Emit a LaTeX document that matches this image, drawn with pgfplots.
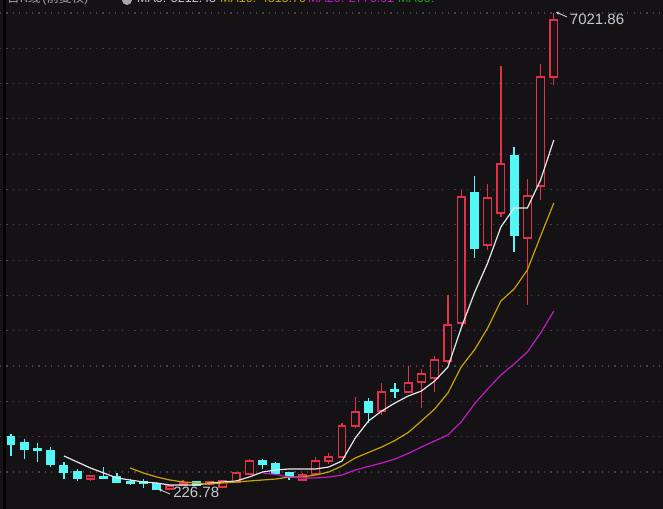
\documentclass[border=0pt]{standalone}
\usepackage{pgfplots}
\pgfplotsset{compat=1.18}
\usepackage{pgfplotstable}
\usetikzlibrary{arrows.meta}
\usepackage{fontspec}
\setmainfont{Liberation Sans}
\newfontfamily\cjk{Noto Sans CJK SC}
\definecolor{bg}{HTML}{141215}
\definecolor{kred}{HTML}{E0304A}
\definecolor{kcyan}{HTML}{54F6F6}
\definecolor{mafive}{HTML}{E8E8E8}
\definecolor{maten}{HTML}{C9A400}
\definecolor{matwenty}{HTML}{C21BC2}
\definecolor{masixty}{HTML}{19A519}
\definecolor{gridc}{HTML}{46444A}
\definecolor{lbl}{HTML}{C4CAD2}

% up (red, hollow) candles: index, open, high, low, close
\pgfplotstableread{
i O H L C
7 383 440 355 426
13 241 298 241 284
14 298 369 284 326
16 312 355 298 341
17 269 369 255 355
18 341 483 326 469
19 455 668 440 640
23 369 469 355 440
24 455 697 440 640
25 640 754 597 697
26 697 1181 683 1138
27 1138 1552 1110 1338
29 1352 1751 1295 1623
31 1623 1993 1609 1751
32 1765 1950 1395 1879
33 1822 2136 1623 2079
34 2064 3005 2036 2577
35 2606 4500 2534 4401
37 3717 4586 3646 4386
38 4173 6267 4116 4871
40 3816 4657 2862 4415
41 4557 6295 4358 6110
42 6110 7021.86 5996 6922
}\up

% down (cyan, filled) candles
\pgfplotstableread{
i O H L C
1 982 1024 711 882
2 896 953 668 811
3 811 896 626 797
4 782 839 554 597
5 569 626 383 483
6 483 526 355 398
8 412 554 383 398
9 412 469 326 341
10 341 383 298 326
11 341 383 255 326
12 312 341 226.78 241
15 341 355 284 298
20 640 668 526 597
21 597 626 455 469
22 469 483 369 412
28 1480 1537 1181 1338
30 1651 1751 1537 1637
36 4458 4700 3532 3674
39 4985 5113 3617 3859
}\down

% draws every candle of a table: #1 table, #2 colour, #3 body fill
\newcommand\candles[3]{%
  \pgfplotstablegetrowsof{#1}%
  \pgfmathtruncatemacro{\nrows}{\pgfplotsretval-1}%
  \pgfplotsforeachungrouped \r in {0,...,\nrows}{%
    \pgfplotstablegetelem{\r}{i}\of{#1}\let\ci\pgfplotsretval
    \pgfplotstablegetelem{\r}{O}\of{#1}\let\co\pgfplotsretval
    \pgfplotstablegetelem{\r}{H}\of{#1}\let\ch\pgfplotsretval
    \pgfplotstablegetelem{\r}{L}\of{#1}\let\cl\pgfplotsretval
    \pgfplotstablegetelem{\r}{C}\of{#1}\let\cc\pgfplotsretval
    \pgfmathsetmacro{\xa}{\ci-0.29}%
    \pgfmathsetmacro{\xb}{\ci+0.29}%
    \edef\cmd{%
      \noexpand\addplot[#2, line width=1.3pt, forget plot] coordinates {(\ci,\cl)(\ci,\ch)};%
      \noexpand\addplot[draw=#2, fill=#3, line width=1.3pt, line join=miter, forget plot]
        coordinates {(\xa,\co)(\xb,\co)(\xb,\cc)(\xa,\cc)} -- cycle;%
    }%
    \cmd
  }%
}

\begin{document}
\begin{tikzpicture}
\begin{axis}[
  scale only axis,
  width=663pt, height=509pt,
  xmin=0.169, xmax=50.245,
  ymin=-43.9, ymax=7206.8,
  axis background/.style={fill=bg},
  axis line style={draw=none},
  xtick=\empty,
  ytick={483,986,1489,1992,2495,2998,3501,4004,4507,5010,5513,6016,6519,7022},
  yticklabels={},
  ytick style={draw=none},
  ymajorgrids,
  major grid style={gridc, line width=1.2pt, dash pattern=on 1.2pt off 5.2pt},
  clip=false,
]
% left dark bar
\fill[black] (rel axis cs:0.0042,0) rectangle (rel axis cs:0.0092,1);

\candles{\up}{kred}{bg}
\candles{\down}{kcyan}{kcyan}

% MA5
\addplot[mafive, line width=1.2pt] coordinates {
(5,711)(6,626)(7,540)(8,469)(9,398)(10,369)(11,341)(12,326)(13,298)(14,298)
(15,298)(16,326)(17,341)(18,355)(19,412)(20,483)(21,512)(22,526)(23,526)(24,526)
(25,554)(26,640)(27,967)(28,1210)(29,1352)(30,1466)(31,1566)(32,1637)(33,1779)(34,1979)
(35,2534)(36,3033)(37,3460)(38,3973)(39,4244)(40,4244)(41,4643)(42,5213)};
% MA10
\addplot[maten, line width=1.2pt] coordinates {
(10,540)(11,469)(12,412)(13,369)(14,341)(15,326)(16,312)(17,326)(18,341)(19,355)
(20,369)(21,383)(22,412)(23,412)(24,440)(25,483)(26,569)(27,683)(28,761)(29,839)
(30,932)(31,1046)(32,1210)(33,1381)(34,1609)(35,1979)(36,2221)(37,2534)(38,2919)(39,3090)
(40,3361)(41,3845)(42,4315)};
% MA20
\addplot[matwenty, line width=1.2pt] coordinates {
(20,469)(21,448)(22,412)(23,398)(24,398)(25,412)(26,440)(27,512)(28,562)(29,611)
(30,668)(31,747)(32,839)(33,925)(34,1010)(35,1195)(36,1452)(37,1665)(38,1865)(39,2022)
(40,2193)(41,2463)(42,2777)};

% high / low labels
\draw[lbl, line width=0.9pt, -{Stealth[length=3.5pt,width=3.5pt]}] (axis cs:42.99,6965) -- (axis cs:42.16,7036);
\node[anchor=west, inner sep=0pt, text=lbl, font=\fontsize{15}{15}\selectfont] at (axis cs:43.2,6936) {7021.86};
\draw[lbl, line width=0.9pt, -{Stealth[length=3.5pt,width=3.5pt]}] (axis cs:13.01,170) -- (axis cs:12.15,238);
\node[anchor=west, inner sep=0pt, text=lbl, font=\fontsize{15}{15}\selectfont] at (axis cs:13.24,198) {226.78};

% header line, cut off at the top edge as in the source
\node[overlay, anchor=base west, inner sep=0pt, text=lbl!80!black, font=\fontsize{12.5}{12.5}\selectfont] at (rel axis cs:0.0106,0.9941) {{\cjk 日K线}\,({\cjk 前复权})};
\fill[gray!70] (rel axis cs:0.1915,1) circle[radius=5pt];
\node[overlay, anchor=base west, inner sep=0pt, text=lbl, font=\fontsize{12.5}{12.5}\selectfont] at (rel axis cs:0.2066,0.9941) {MA5: 5212.43};
\node[overlay, anchor=base west, inner sep=0pt, text=maten, font=\fontsize{12.5}{12.5}\selectfont] at (rel axis cs:0.3318,0.9941) {MA10: 4315.70};
\node[overlay, anchor=base west, inner sep=0pt, text=matwenty, font=\fontsize{12.5}{12.5}\selectfont] at (rel axis cs:0.4646,0.9941) {MA20: 2776.91};
\node[overlay, anchor=base west, inner sep=0pt, text=masixty, font=\fontsize{12.5}{12.5}\selectfont] at (rel axis cs:0.6003,0.9941) {MA60:};
\end{axis}
\pgfresetboundingbox
\path[use as bounding box] (current axis.south west) rectangle (current axis.north east);
\end{tikzpicture}
\end{document}
